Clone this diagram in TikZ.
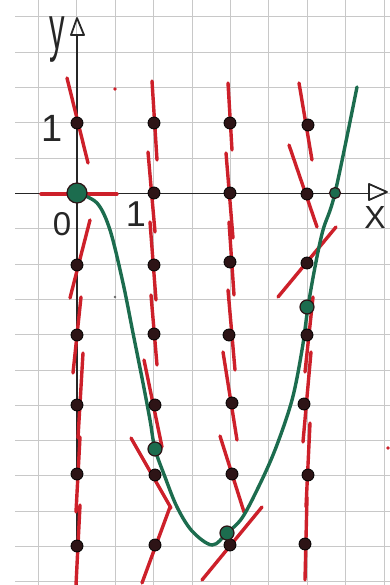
\documentclass[tikz,border=0pt]{standalone}
\usepackage{fontspec}
\setmainfont{Liberation Sans}
\definecolor{penred}{RGB}{205,32,42}
\definecolor{pengreen}{RGB}{28,108,78}
\definecolor{pendot}{RGB}{45,20,22}
\definecolor{gridgray}{RGB}{200,200,200}
\begin{document}
\begin{tikzpicture}[x=1pt,y=-1pt,
  gridline/.style={gridgray,line width=1pt},
  axisline/.style={black!85,line width=1.8pt},
  seg/.style={penred,line width=3.4pt,line cap=round},
  solcurve/.style={pengreen,line width=3.4pt,line cap=round},
  dotb/.style={circle,fill=pendot,draw=black,line width=0.8pt,inner sep=0pt,minimum size=12pt},
  dotg/.style={circle,fill=pengreen,draw=pendot,line width=1.2pt,inner sep=0pt,minimum size=14pt},
  lbl/.style={inner sep=0pt,text=black!85}]
\useasboundingbox (0,0) rectangle (390,585);
\fill[white] (0,0) rectangle (390,585);
% grid
\foreach \k in {0,...,9} \draw[gridline] ({38.5+38.4*\k},0) -- ({38.5+38.4*\k},585);
\foreach \k in {0,...,16} \draw[gridline] (15,{17+35.3*\k}) -- (390,{17+35.3*\k});
% axes
\coordinate (xs) at (15,193.5);
\coordinate (xe) at (369,193.5);
\coordinate (ys) at (77,585);
\coordinate (ye) at (77,35);
\draw[axisline] (xs) -- (xe);
\draw[axisline] (ys) -- (ye);
\draw[axisline,line join=round] (77,18) -- (71,35) -- (84,35) -- cycle;
\draw[axisline,line join=round] (387,192) -- (369,184) -- (369,200) -- cycle;
% labels
\node[lbl,font=\fontsize{62}{62}\selectfont] (ly) at (57,40) {\scalebox{0.5}[1]{y}};
\node[lbl,font=\fontsize{38}{38}\selectfont] (l1y) at (52,128) {1};
\node[lbl,font=\fontsize{33}{33}\selectfont] (l0) at (62,224) {0};
\node[lbl,font=\fontsize{36}{36}\selectfont] (l1x) at (136,214) {1};
\node[lbl,font=\fontsize{32}{32}\selectfont] (lx) at (375,217) {X};
% slope field segments
\foreach \a/\b/\c/\d in {
  67/78/88/163, 41/194/117/194, 90/220/70/298, 81/297/73/373, 83/353/78/438, 80/437/76/512, 80/505/76/585,
  152/81/157/160, 148/152/155/232, 150/222/156/300, 151/295/157/365, 144/360/162/447, 131/438/171/508, 170/507/142/583,
  228/83/232/150, 226/153/233/238, 229/222/234/295, 228/290/235/370, 223/352/237/440, 220/436/244/512, 202/580/262/507,
  299/83/312/160, 289/145/317/227, 278/297/336/227, 313/297/305/372, 311/352/303/442, 310/423/306/507, 307/497/305/580}
  \draw[seg] (\a,\b) -- (\c,\d);
% stray marks
\fill[penred] (115,89) circle (1.8);
\fill[penred] (388,448) circle (1.8);
\fill[black!60] (115,297) circle (1.4);
% solution curve
\draw[solcurve] plot[smooth,tension=0.55] coordinates {
  (77,193) (97,203) (110,230) (123,283) (133,333) (143,383) (150,420) (155,449)
  (165,477) (177,507) (192,531) (212,545) (227,533) (242,518) (258,488) (275,450)
  (292,400) (302,350) (308,307) (315,267) (323,230) (335,193) (357,87)};
% dots
\foreach \px/\py [count=\i] in {
  77/123, 77/265, 77/335, 77/405, 77/474, 77/546,
  154/123, 154/193, 154/265, 154/334, 155/405, 155/475, 155/545,
  230/123, 230/193, 230/262, 229/335, 232/403, 232/474, 230/545,
  308/125, 307/194, 307/263, 307/335, 304/404, 308/475, 305/544}
  \node[dotb] (b\i) at (\px,\py) {};
\node[dotg,minimum size=20pt] (g0) at (77,193) {};
\node[dotg] (g1) at (155,449) {};
\node[dotg] (g2) at (227,533) {};
\node[dotg] (g3) at (307,307) {};
\node[dotg,minimum size=11pt] (g4) at (335,193) {};
\end{tikzpicture}
\end{document}
